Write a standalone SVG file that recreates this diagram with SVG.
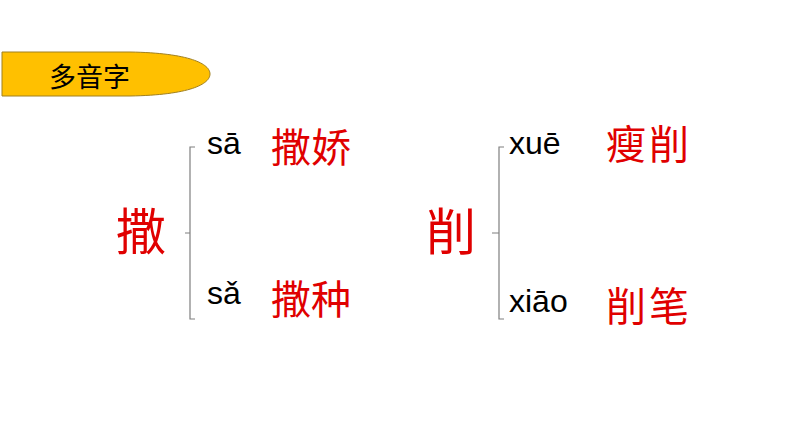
<svg xmlns="http://www.w3.org/2000/svg" width="794" height="447" viewBox="0 0 794 447">
<style>
.py{font-family:"Liberation Sans",Arial,sans-serif;font-size:32px;fill:#000}
.cn{font-family:"Noto Sans CJK SC",sans-serif;fill:#e00000}
.big{font-size:50px}
.word{font-size:40px}
.br{fill:none;stroke:#7f7f7f;stroke-width:1.2}
</style>
<rect width="794" height="447" fill="#fff"/>
<g id="banner">
<path d="M2,52 L130,52 C190,53 210,64 210,74 C210,84 190,95 130,96 L2,96 Z" fill="#FFC000" stroke="#a08020" stroke-width="1"/>
<text x="49" y="87" font-family="Noto Sans CJK SC,sans-serif" font-size="27" fill="#000">多音字</text>
</g>
<g id="connectors">
<path class="br" d="M195,147 H190 V319 H195 M185,233 H190"/>
<path class="br" d="M504,147 H499 V319 H504 M492,233 H499"/>
</g>
<g id="node-sa">
<text class="cn big" x="116" y="250">撒</text>
</g>
<g id="node-sa1">
<text class="py" x="207" y="154">sā</text>
<text class="cn word" x="271" y="162">撒娇</text>
</g>
<g id="node-sa3">
<text class="py" x="207" y="304">sǎ</text>
<text class="cn word" x="271" y="314">撒种</text>
</g>
<g id="node-xue">
<text class="cn big" x="426" y="250">削</text>
</g>
<g id="node-xue1">
<text class="py" x="509" y="154">xuē</text>
<text class="cn word" x="606" y="159" letter-spacing="3">瘦削</text>
</g>
<g id="node-xiao">
<text class="py" x="509" y="312">xiāo</text>
<text class="cn word" x="606" y="321" letter-spacing="3">削笔</text>
</g>
</svg>
